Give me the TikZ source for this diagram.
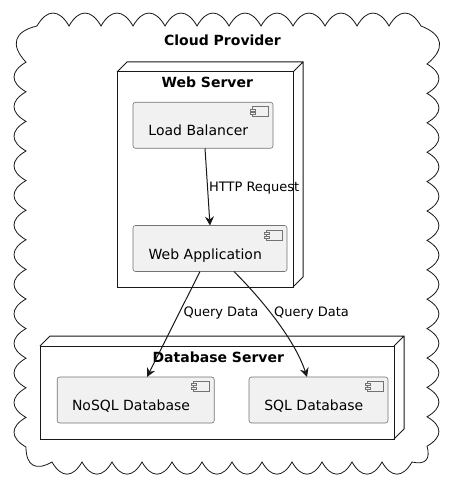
\documentclass[tikz,border=0pt]{standalone}
\usepackage{fontspec}
\setmainfont{DejaVu Sans}
\usetikzlibrary{arrows.meta}
\definecolor{compfill}{HTML}{F1F1F1}
\definecolor{ink}{HTML}{181818}

\begin{document}
\begin{tikzpicture}[x=1pt,y=-1pt,
		bump/.style={bend left=60,looseness=1.6},
		server/.style={draw=ink,line width=1pt,inner sep=0pt,outer sep=0pt},
		comp/.style={draw=black!55,fill=compfill,line width=0.6pt,rounded corners=2.5pt,
			minimum height=46pt,inner sep=0pt,outer sep=0pt,font=\fontsize{14}{16}\selectfont,
			text height=23pt,text depth=2pt,execute at end node={\hspace*{9.4pt}}},
		icon/.style={draw=black!55,fill=compfill,line width=0.6pt},
		title/.style={font=\fontsize{14}{16}\selectfont\bfseries,anchor=base,inner sep=0pt},
		lbl/.style={font=\fontsize{13}{15}\selectfont,inner sep=1pt},
		flow/.style={draw=ink,line width=1pt,-{Stealth[length=9pt,width=9pt,inset=3pt]}}]
			\useasboundingbox (0,0) rectangle (455,489);
			\fill[white] (0,0) rectangle (455,489);
			% cloud outline
			\draw[ink,line width=0.8pt,fill=white] (37,26)
				\foreach \x in {69,101,...,421} { to[bump] (\x,26) }
				\foreach \y in {64,93.4,...,447} { to[bump] (427,\y) }
				\foreach \x in {412,382,...,52} { to[bump] (\x,462) }
				to[bump] (26,447)
				\foreach \y in {417.4,387.8,...,61} { to[bump] (26,\y) }
				to[bump] (37,26);
			\node[title] (cloudtitle) at (222.5,46) {Cloud Provider};
			% servers
			\node[server,minimum width=176pt,minimum height=215pt] (ws) at (205,179.5) {};
			\node[server,minimum width=354pt,minimum height=93pt] (db) at (217,392.5) {};
			\foreach \n in {ws,db}
				\draw[ink,line width=1pt] (\n.north west) -- ++(10,-10) -- ([shift={(10,-10)}]\n.north east)
					-- ([shift={(10,-10)}]\n.south east) -- (\n.south east)
					([shift={(10,-10)}]\n.north east) -- (\n.north east);
			\node[title] (wstitle) at (207.3,88) {Web Server};
			\node[title] (dbtitle) at (218.3,362.7) {Database Server};
			% components
			\node[comp,minimum width=140pt] (lb) at (203,125.3) {Load Balancer};
			\node[comp,minimum width=154pt] (wa) at (210,248.5) {Web Application};
			\node[comp,minimum width=157pt] (nosql) at (135.7,400) {NoSQL Database};
			\node[comp,minimum width=139pt] (sql) at (318.5,400) {SQL Database};
			\foreach \n in {lb,wa,nosql,sql}{
				\draw[icon] ([shift={(-21,4.5)}]\n.north east) rectangle ([shift={(-5,14.5)}]\n.north east);
				\draw[icon] ([shift={(-23,6.7)}]\n.north east) rectangle ([shift={(-18,8.7)}]\n.north east);
				\draw[icon] ([shift={(-23,10.4)}]\n.north east) rectangle ([shift={(-18,12.4)}]\n.north east);
			}
			% arrows
			\draw[flow] ([xshift=2pt]lb.south) -- node[lbl,right,pos=0.52] (httplbl) {HTTP Request} (wa.north);
			\draw[flow] ([xshift=-10pt]wa.south) -- node[lbl,right=3pt,pos=0.395] (querylbla) {Query Data} ([xshift=11.3pt]nosql.north);
			\draw[flow] ([xshift=24pt]wa.south) .. controls +(28,28) and +(-12,-37) .. ([xshift=-11.5pt]sql.north);
			\node[lbl,anchor=base west,inner sep=0pt] (querylblb) at (274,316.7) {Query Data};
		\end{tikzpicture}
\end{document}
